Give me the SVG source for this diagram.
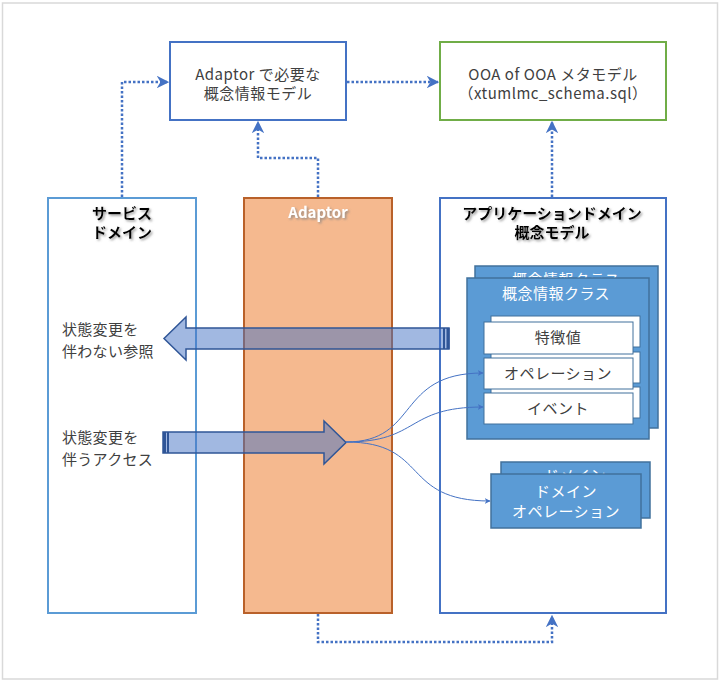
<svg xmlns="http://www.w3.org/2000/svg" width="720" height="682" viewBox="0 0 720 682">
<defs>
<style>
.t{font-family:"Noto Sans CJK JP","Liberation Sans",sans-serif;font-size:15px;fill:#404040;text-anchor:middle;letter-spacing:0.5px}
.tl{font-family:"Noto Sans CJK JP","Liberation Sans",sans-serif;font-size:15px;fill:#404040;letter-spacing:0.3px}
.w{font-family:"Noto Sans CJK JP","Liberation Sans",sans-serif;font-size:15px;fill:#ffffff;text-anchor:middle;letter-spacing:0.5px}
.h{font-family:"Noto Sans CJK JP","Liberation Sans",sans-serif;font-size:15px;font-weight:bold;text-anchor:middle;filter:url(#sh)}
.dot{fill:none;stroke:#4472c4;stroke-width:2.5;stroke-dasharray:2.5 2}
.thin{fill:none;stroke:#4472c4;stroke-width:1}
.card{fill:#5b9bd5;stroke:#41719c;stroke-width:1.5}
.wb{fill:#ffffff;stroke:#41719c;stroke-width:1}
.big{fill:#4472c4;fill-opacity:0.5;stroke:#2f5597;stroke-width:1.5}
</style>
<filter id="sh" x="-10%" y="-30%" width="130%" height="170%">
<feDropShadow dx="1.5" dy="1.5" stdDeviation="0.8" flood-color="#808080" flood-opacity="0.8"/>
</filter>
<clipPath id="backclip"><rect x="475" y="266" width="183" height="12"/></clipPath>
<clipPath id="backclip2"><rect x="501" y="462" width="149" height="12"/></clipPath>
<marker id="ah" viewBox="0 0 10 10" refX="9" refY="5" markerWidth="6" markerHeight="6" orient="auto" markerUnits="strokeWidth">
<path d="M0,0 L10,5 L0,10 L3,5 z" fill="#4472c4"/>
</marker>
<marker id="as" viewBox="0 0 10 10" refX="9" refY="5" markerWidth="5" markerHeight="5" orient="auto" markerUnits="strokeWidth">
<path d="M0,0 L10,5 L0,10 L3,5 z" fill="#4472c4"/>
</marker>
</defs>
<rect x="2.5" y="3" width="715" height="676" fill="#ffffff" stroke="#d9d9d9" stroke-width="1.5"/>

<g id="model-box">
<rect x="170" y="42" width="176" height="78" fill="#ffffff" stroke="#4472c4" stroke-width="2"/>
<text class="t" x="258" y="80">Adaptor で必要な</text>
<text class="t" x="258" y="99">概念情報モデル</text>
</g>
<g id="meta-box">
<rect x="440" y="42" width="226" height="78" fill="#ffffff" stroke="#70ad47" stroke-width="2"/>
<text class="t" x="553" y="80">OOA of OOA メタモデル</text>
<text class="t" x="553" y="99">（xtumlmc_schema.sql）</text>
</g>

<g id="service-domain">
<rect x="48" y="198" width="148" height="415" fill="#ffffff" stroke="#5b9bd5" stroke-width="2"/>
<text class="h" x="122" y="219" fill="#000000">サービス</text>
<text class="h" x="122" y="238" fill="#000000">ドメイン</text>
<text class="tl" x="62" y="335">状態変更を</text>
<text class="tl" x="62" y="357">伴わない参照</text>
<text class="tl" x="62" y="443">状態変更を</text>
<text class="tl" x="62" y="465">伴うアクセス</text>
</g>

<g id="adaptor">
<rect x="244" y="198" width="148" height="415" fill="#f5b98f" stroke="#b9612a" stroke-width="2"/>
<text class="h" x="318" y="218" fill="#ffffff">Adaptor</text>
</g>

<g id="app-domain">
<rect x="440" y="198" width="226" height="415" fill="#ffffff" stroke="#4472c4" stroke-width="2"/>
<text class="h" x="552" y="219" fill="#000000">アプリケーションドメイン</text>
<text class="h" x="552" y="238" fill="#000000">概念モデル</text>
</g>

<g id="class-card">
<rect class="card" x="475" y="266" width="183" height="162"/>
<text class="w" x="566" y="285" clip-path="url(#backclip)">概念情報クラス</text>
<rect class="card" x="467" y="278" width="182" height="161"/>
<text class="w" x="556" y="299">概念情報クラス</text>
<rect class="wb" x="491" y="316" width="149" height="31"/>
<rect class="wb" x="491" y="352" width="149" height="31"/>
<rect class="wb" x="491" y="387" width="149" height="31"/>
</g>
<g id="attr">
<rect class="wb" x="484" y="322" width="149" height="32"/>
<text class="t" x="558" y="343">特徴値</text>
</g>
<g id="operation">
<rect class="wb" x="484" y="358" width="149" height="31"/>
<text class="t" x="558" y="379">オペレーション</text>
</g>
<g id="event">
<rect class="wb" x="484" y="393" width="149" height="31"/>
<text class="t" x="558" y="414">イベント</text>
</g>

<g id="domain-op">
<rect class="card" x="501" y="462" width="149" height="56"/>
<text class="w" x="575" y="481" clip-path="url(#backclip2)">ドメイン</text>
<rect class="card" x="491" y="474" width="150" height="54"/>
<text class="w" x="566" y="497">ドメイン</text>
<text class="w" x="566" y="517">オペレーション</text>
</g>

<g id="connectors">
<path class="dot" d="M122,197 V82 H168" marker-end="url(#as)"/>
<path class="dot" d="M318,197 V158 H258 V122" marker-end="url(#as)"/>
<path class="dot" d="M347,82 H438" marker-end="url(#as)"/>
<path class="dot" d="M552,197 V122" marker-end="url(#as)"/>
<path class="dot" d="M318,614 V642 H552 V616" marker-end="url(#as)"/>
<path class="big" d="M449,328 H186 V317 L164,338.5 L186,360 V349 H449 z"/>
<rect x="443" y="328" width="2" height="21" fill="#2f5597"/>
<rect x="446.5" y="328" width="3" height="21" fill="#2f5597"/>
<path class="big" d="M163,432 H324 V421 L346,442.5 L324,464 V453 H163 z"/>
<rect x="163" y="432" width="3" height="21" fill="#2f5597"/>
<rect x="167" y="432" width="2" height="21" fill="#2f5597"/>
<path class="thin" d="M346,442 C420,442 395,373 483,373" marker-end="url(#ah)"/>
<path class="thin" d="M346,442 C420,442 405,407 483,407" marker-end="url(#ah)"/>
<path class="thin" d="M346,442 C430,442 400,501 490,501" marker-end="url(#ah)"/>
</g>
</svg>
